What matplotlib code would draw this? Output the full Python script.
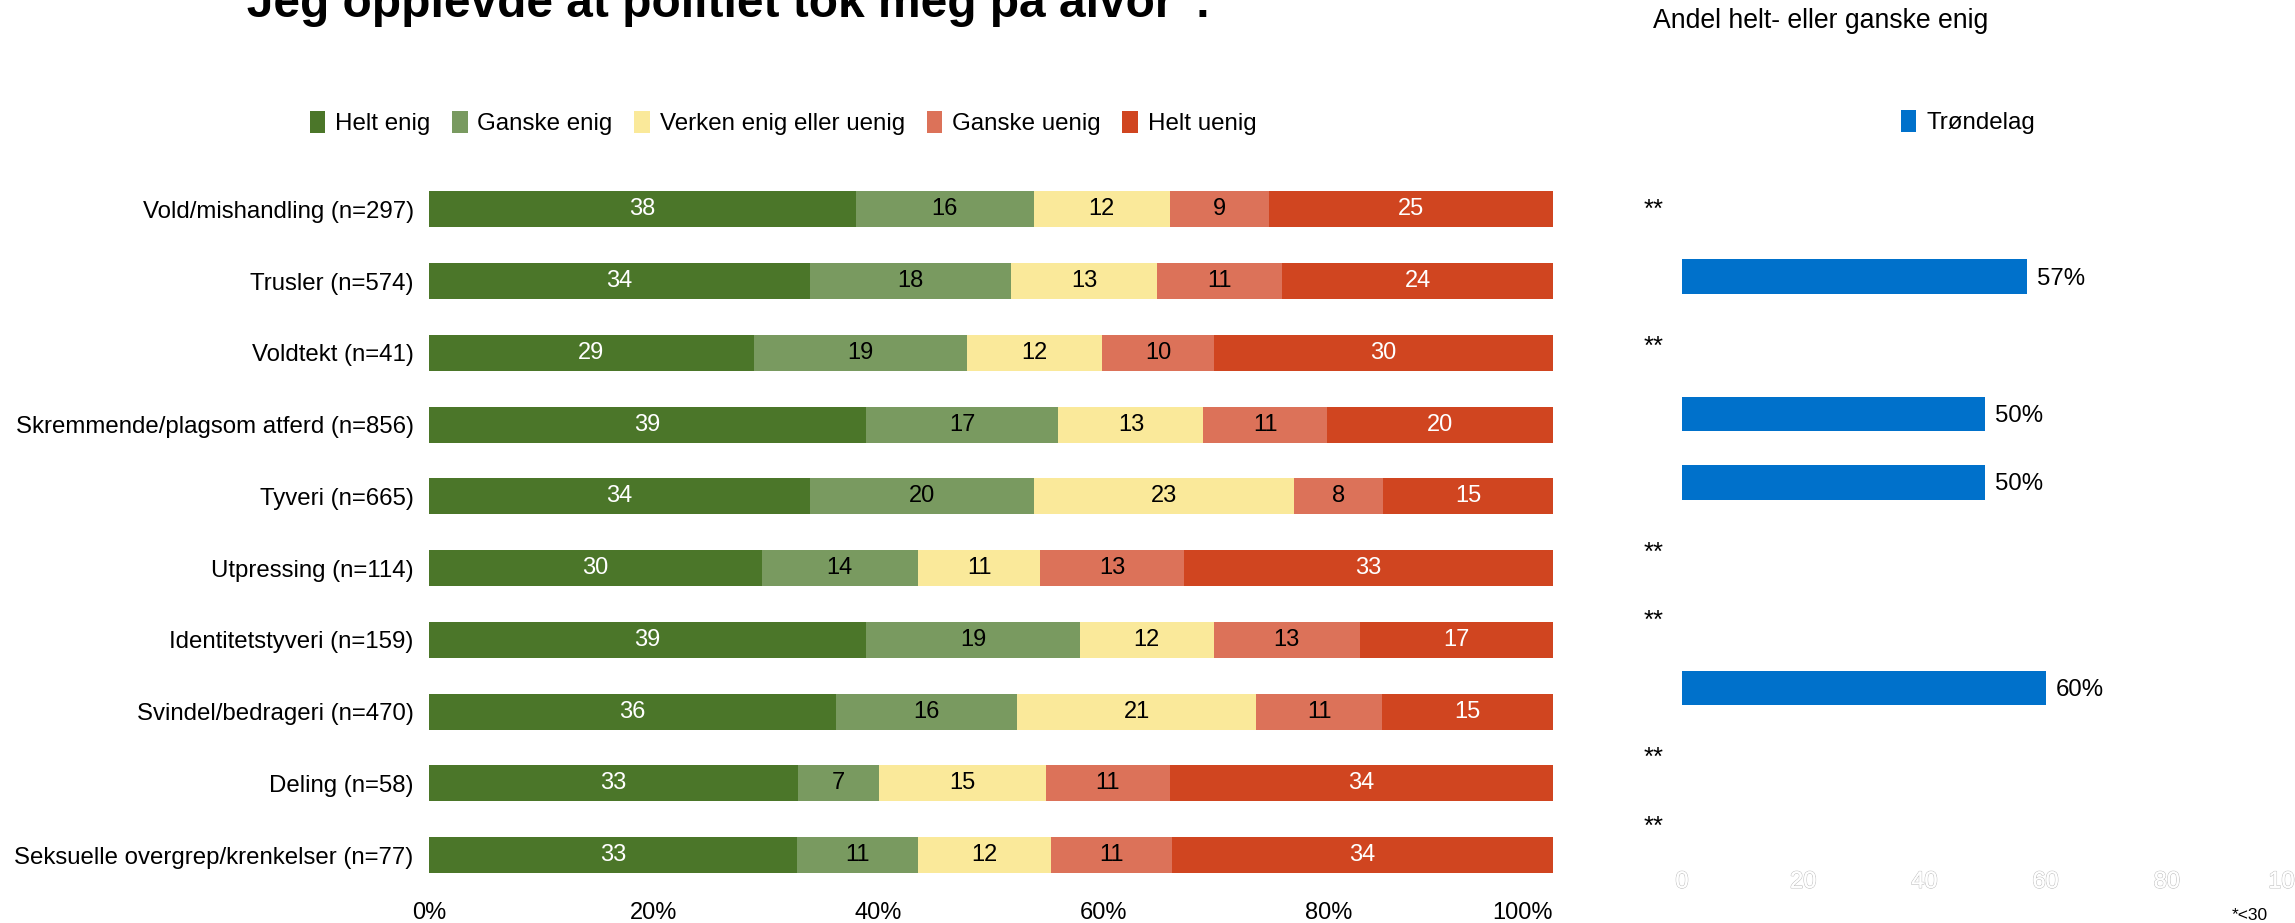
import matplotlib
matplotlib.use("Agg")
import matplotlib.pyplot as plt
from matplotlib.patches import Patch
import matplotlib.patheffects as pe
import numpy as np

plt.rcParams['font.family'] = ['Liberation Sans', 'DejaVu Sans']

title = '"Jeg opplevde at politiet tok meg på alvor".'
right_title = "Andel helt- eller ganske enig"
footnote = "*<30"

categories = [
    "Vold/mishandling (n=297)",
    "Trusler (n=574)",
    "Voldtekt (n=41)",
    "Skremmende/plagsom atferd (n=856)",
    "Tyveri (n=665)",
    "Utpressing (n=114)",
    "Identitetstyveri (n=159)",
    "Svindel/bedrageri (n=470)",
    "Deling (n=58)",
    "Seksuelle overgrep/krenkelser (n=77)",
]
series_names = ["Helt enig", "Ganske enig", "Verken enig eller uenig", "Ganske uenig", "Helt uenig"]
helt_enig    = [38.0, 33.9, 28.9, 38.9, 33.9, 29.6, 38.9, 36.2, 32.8, 32.7]
ganske_enig  = [15.8, 17.9, 19.0, 17.1, 19.9, 13.9, 19.0, 16.1,  7.2, 10.8]
verken       = [12.1, 13.0, 12.0, 12.9, 23.2, 10.9, 11.9, 21.3, 14.9, 11.8]
ganske_uenig = [ 8.8, 11.1,  9.9, 11.0,  7.9, 12.8, 13.0, 11.2, 11.0, 10.8]
helt_uenig   = [25.3, 24.1, 30.2, 20.1, 15.1, 32.8, 17.2, 15.2, 34.1, 33.9]
series_values = [helt_enig, ganske_enig, verken, ganske_uenig, helt_uenig]
series_colors = ["#4b7629", "#799a60", "#fae99a", "#dc7259", "#d04520"]
label_colors = ["white", "black", "black", "black", "white"]

# right panel: Trøndelag share helt/ganske enig (None = too few answers, "**")
trondelag = [None, 57, None, 50, 50, None, None, 60, None, None]
trondelag_name = "Trøndelag"
trondelag_color = "#0071cb"
right_ticks = [0, 20, 40, 60, 80, 100]
left_ticks = [0, 20, 40, 60, 80, 100]

W, H = 2295, 923
fig = plt.figure(figsize=(W / 100, H / 100), dpi=100)

def ax_rect(x0, x1, y0, y1):
    return [x0 / W, 1 - y1 / H, (x1 - x0) / W, (y1 - y0) / H]

# left stacked bar
ax = fig.add_axes(ax_rect(429, 1553, 173.4, 891))
y = np.arange(len(categories))
left = np.zeros(len(categories))
for name, vals, col, lc in zip(series_names, series_values, series_colors, label_colors):
    vals = np.array(vals)
    ax.barh(y, vals, left=left, height=0.5, color=col, label=name)
    for yi, l, v in zip(y, left, vals):
        ax.text(l + v / 2, yi, f"{round(v):d}", ha="center", va="center",
                color=lc, fontsize=17)
    left += vals
ax.set_xlim(0, 100)
ax.set_ylim(len(categories) - 0.5, -0.5)
ax.set_yticks(y)
ax.set_yticklabels(categories, fontsize=17.3)
ax.set_xticks(left_ticks)
ax.set_xticklabels([f"{t}%" for t in left_ticks], fontsize=17)
ax.get_xticklabels()[-1].set_horizontalalignment("right")
ax.tick_params(length=0, pad=8)
ax.tick_params(axis="y", pad=11)
for s in ax.spines.values():
    s.set_visible(False)

handles = [Patch(facecolor=c, edgecolor="none") for c in series_colors]
fig.legend(handles, series_names, loc="center", bbox_to_anchor=(783 / W, 1 - 123 / H),
           ncol=5, frameon=False, fontsize=17.4, handlelength=0.65, handleheight=1.0,
           handletextpad=0.4, columnspacing=0.9)

# right panel
ax2 = fig.add_axes(ax_rect(1682, 2288, 173.7, 859.7))
y2 = np.arange(len(trondelag))
for yi, v in zip(y2, trondelag):
    if v is None:
        ax2.text(-6.3, yi + 0.02, "**", ha="left", va="center", fontsize=18.5)
    else:
        ax2.barh(yi, v, height=0.5, color=trondelag_color)
        ax2.text(v + 1.6, yi + 0.03, f"{v}%", ha="left", va="center", fontsize=17.3)
ax2.set_xlim(0, 100)
ax2.set_ylim(len(trondelag) - 0.5, -0.5)
ax2.set_yticks([])
ax2.set_xticks(right_ticks)
ax2.set_xticklabels([str(t) for t in right_ticks], fontsize=17, color="white")
for lab in ax2.get_xticklabels():
    lab.set_path_effects([pe.withStroke(linewidth=1.0, foreground="#c4c4c4"), pe.Normal()])
ax2.tick_params(length=0, pad=8)
for s in ax2.spines.values():
    s.set_visible(False)
ax2.set_facecolor("none")

fig.legend([Patch(facecolor=trondelag_color, edgecolor="none")], [trondelag_name],
           loc="center left", bbox_to_anchor=(1879 / W, 1 - 122 / H), frameon=False,
           fontsize=17.4, handlelength=0.65, handleheight=1.0, handletextpad=0.4)

fig.text(717 / W, 1 - 17 / H, title, ha="center", va="baseline", fontsize=34.5,
         fontweight="bold")
fig.text(1653 / W, 1 - 28 / H, right_title, ha="left", va="baseline", fontsize=19.2)
fig.text(2250 / W, 1 - 915 / H, footnote, ha="center", va="center", fontsize=12.5)

fig.savefig("out.png", dpi=100)
